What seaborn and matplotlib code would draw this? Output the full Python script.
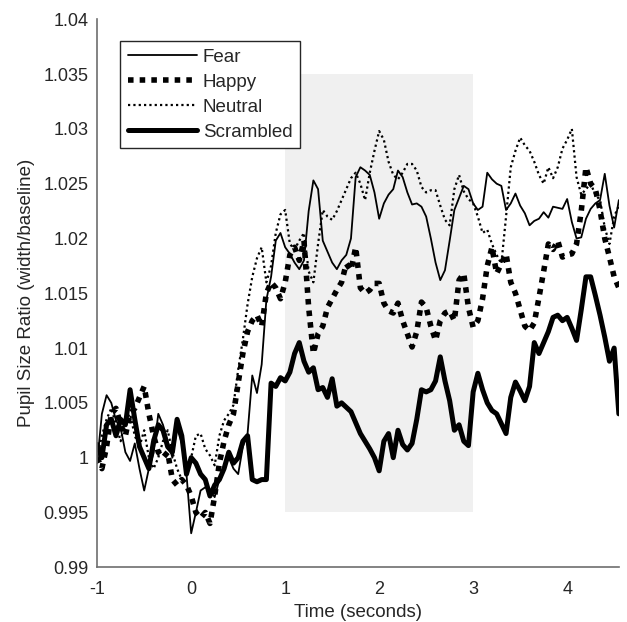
import matplotlib
matplotlib.use("Agg")
import matplotlib.pyplot as plt
import numpy as np
import pandas as pd
import seaborn as sns

# time grid (seconds), one sample every 50 ms
time_s = np.round(np.arange(-1.0, 4.5501, 0.05), 2)

fear = [
    0.9995, 1.0040, 1.0057, 1.0050, 1.0034, 1.0027, 1.0005, 0.9997, 1.0013, 0.9990,
    0.9970, 0.9990, 1.0004, 1.0040, 1.0030, 1.0015, 1.0000, 1.0027, 1.0013, 0.9985,
    0.9931, 0.9950, 0.9970, 0.9973, 0.9970, 0.9964, 0.9980, 0.9990, 1.0000, 0.9990,
    0.9985, 1.0010, 1.0022, 1.0075, 1.0059, 1.0085, 1.0144, 1.0165, 1.0198, 1.0205,
    1.0192, 1.0186, 1.0178, 1.0172, 1.0180, 1.0225, 1.0253, 1.0245, 1.0198, 1.0188,
    1.0178, 1.0172, 1.0180, 1.0185, 1.0200, 1.0256, 1.0265, 1.0262, 1.0258, 1.0242,
    1.0218, 1.0232, 1.0240, 1.0245, 1.0262, 1.0256, 1.0242, 1.0231, 1.0232, 1.0229,
    1.0220, 1.0200, 1.0178, 1.0162, 1.0171, 1.0198, 1.0226, 1.0237, 1.0248, 1.0245,
    1.0232, 1.0226, 1.0229, 1.0260, 1.0254, 1.0250, 1.0248, 1.0226, 1.0232, 1.0241,
    1.0230, 1.0223, 1.0212, 1.0216, 1.0218, 1.0224, 1.0219, 1.0229, 1.0228, 1.0227,
    1.0236, 1.0215, 1.0200, 1.0201, 1.0218, 1.0227, 1.0232, 1.0235, 1.0259, 1.0230,
    1.0210, 1.0235,
]

happy = [
    1.0000, 0.9990, 1.0010, 1.0040, 1.0045, 1.0030, 1.0020, 1.0040, 1.0045, 1.0055,
    1.0065, 1.0040, 1.0020, 1.0005, 1.0000, 1.0005, 0.9980, 0.9975, 0.9980, 0.9975,
    0.9965, 0.9950, 0.9945, 0.9950, 0.9940, 0.9965, 0.9995, 1.0015, 1.0030, 1.0040,
    1.0068, 1.0095, 1.0115, 1.0125, 1.0130, 1.0120, 1.0150, 1.0160, 1.0155, 1.0145,
    1.0160, 1.0185, 1.0192, 1.0180, 1.0198, 1.0137, 1.0095, 1.0113, 1.0120, 1.0137,
    1.0145, 1.0153, 1.0160, 1.0177, 1.0171, 1.0192, 1.0155, 1.0150, 1.0153, 1.0159,
    1.0159, 1.0141, 1.0134, 1.0132, 1.0141, 1.0125, 1.0113, 1.0101, 1.0115, 1.0142,
    1.0137, 1.0120, 1.0107, 1.0125, 1.0132, 1.0134, 1.0125, 1.0162, 1.0168, 1.0137,
    1.0119, 1.0125, 1.0145, 1.0175, 1.0192, 1.0168, 1.0177, 1.0186, 1.0160, 1.0150,
    1.0135, 1.0120, 1.0116, 1.0123, 1.0146, 1.0170, 1.0195, 1.0190, 1.0198, 1.0183,
    1.0185, 1.0186, 1.0195, 1.0225, 1.0265, 1.0250, 1.0245, 1.0226, 1.0200, 1.0183,
    1.0165, 1.0155,
]

neutral = [
    1.0000, 1.0020, 1.0035, 1.0045, 1.0030, 1.0015, 1.0035, 1.0040, 1.0020, 1.0010,
    1.0025, 1.0000, 0.9990, 1.0000, 1.0015, 1.0025, 1.0005, 0.9990, 0.9980, 0.9985,
    1.0000, 1.0020, 1.0022, 1.0008, 1.0002, 0.9993, 1.0020, 1.0034, 1.0040, 1.0048,
    1.0080, 1.0108, 1.0140, 1.0165, 1.0182, 1.0192, 1.0160, 1.0175, 1.0205, 1.0222,
    1.0226, 1.0195, 1.0190, 1.0198, 1.0205, 1.0170, 1.0160, 1.0195, 1.0226, 1.0220,
    1.0217, 1.0225, 1.0235, 1.0245, 1.0255, 1.0260, 1.0250, 1.0235, 1.0260, 1.0280,
    1.0298, 1.0290, 1.0270, 1.0258, 1.0254, 1.0260, 1.0268, 1.0268, 1.0262, 1.0247,
    1.0242, 1.0244, 1.0244, 1.0230, 1.0217, 1.0212, 1.0245, 1.0258, 1.0243, 1.0236,
    1.0232, 1.0220, 1.0205, 1.0208, 1.0195, 1.0185, 1.0177, 1.0220, 1.0265, 1.0280,
    1.0292, 1.0285, 1.0280, 1.0270, 1.0258, 1.0250, 1.0265, 1.0255, 1.0265, 1.0282,
    1.0290, 1.0300, 1.0256, 1.0240, 1.0245, 1.0250, 1.0240, 1.0235, 1.0210, 1.0195,
    1.0220, 1.0230,
]

scrambled = [
    1.0012, 1.0000, 1.0030, 1.0035, 1.0020, 1.0035, 1.0030, 1.0062, 1.0035, 1.0010,
    1.0000, 0.9990, 1.0015, 1.0030, 1.0025, 1.0010, 1.0005, 1.0035, 1.0020, 0.9985,
    1.0000, 0.9995, 0.9985, 0.9980, 0.9965, 0.9975, 0.9980, 0.9990, 1.0005, 0.9995,
    1.0000, 1.0015, 1.0020, 0.9980, 0.9978, 0.9980, 0.9980, 1.0068, 1.0065, 1.0073,
    1.0070, 1.0078, 1.0095, 1.0105, 1.0088, 1.0078, 1.0082, 1.0062, 1.0064, 1.0055,
    1.0072, 1.0047, 1.0050, 1.0046, 1.0042, 1.0032, 1.0022, 1.0015, 1.0008, 1.0000,
    0.9988, 1.0015, 1.0022, 1.0000, 1.0025, 1.0012, 1.0007, 1.0013, 1.0035, 1.0062,
    1.0060, 1.0062, 1.0070, 1.0092, 1.0070, 1.0052, 1.0025, 1.0030, 1.0015, 1.0011,
    1.0060, 1.0077, 1.0062, 1.0050, 1.0043, 1.0040, 1.0031, 1.0022, 1.0055, 1.0069,
    1.0061, 1.0052, 1.0065, 1.0105, 1.0095, 1.0105, 1.0115, 1.0128, 1.0130, 1.0125,
    1.0128, 1.0118, 1.0107, 1.0135, 1.0165, 1.0165, 1.0148, 1.0130, 1.0110, 1.0088,
    1.0100, 1.0040,
]

conditions = ["Fear", "Happy", "Neutral", "Scrambled"]

# stimulus window (shaded)
window_x = [1, 3]
window_y = [0.995, 1.035]

x_ticks = [-1, 0, 1, 2, 3, 4]
y_ticks = [0.99, 0.995, 1.0, 1.005, 1.01, 1.015, 1.02, 1.025, 1.03, 1.035, 1.04]

df = pd.DataFrame({"time": time_s, "Fear": fear, "Happy": happy,
                   "Neutral": neutral, "Scrambled": scrambled})

sns.set_theme(style="white")
plt.rcParams["font.family"] = ["Liberation Sans", "DejaVu Sans"]

styles = {
    "Fear": dict(lw=1.3, linestyle="-"),
    "Happy": dict(lw=4.0, linestyle=(0, (1, 1.1))),
    "Neutral": dict(lw=1.6, linestyle=(0, (1, 1.4))),
    "Scrambled": dict(lw=3.6, linestyle="-"),
}

fig = plt.figure(figsize=(6.27, 6.22), dpi=100)
ax = fig.add_axes([0.155, 0.088, 0.832, 0.881])

ax.fill_between(window_x, window_y[0], window_y[1], color="#f0f0f0", lw=0, zorder=0)

for name in conditions:
    sns.lineplot(data=df, x="time", y=name, ax=ax, color="black",
                 label=name, **styles[name])

ax.set_xlim(-1, 4.55)
ax.set_ylim(0.99, 1.04)
ax.set_xticks(x_ticks)
ax.set_yticks(y_ticks)
ax.set_yticklabels([f"{v:g}" for v in y_ticks])
ax.set_xticklabels([f"{v:g}" for v in x_ticks])

for side in ["top", "right"]:
    ax.spines[side].set_visible(False)
for side in ["left", "bottom"]:
    ax.spines[side].set_color("#6e6e6e")
    ax.spines[side].set_linewidth(1.2)
ax.tick_params(direction="in", length=4, width=1, color="#6e6e6e",
               labelsize=13, labelcolor="#262626", pad=6)
ax.tick_params(axis="x", pad=10)

ax.set_xlabel("Time (seconds)", fontsize=13.5, color="#262626", labelpad=4)
ax.set_ylabel("Pupil Size Ratio (width/baseline)", fontsize=13.5, color="#262626", labelpad=6)

leg = ax.legend(loc="upper left", bbox_to_anchor=(0.044, 0.96), borderaxespad=0,
                fontsize=13.5, handlelength=3.7, handletextpad=0.3, labelspacing=0.42,
                borderpad=0.4, fancybox=False, framealpha=1, edgecolor="#262626")
leg.get_frame().set_linewidth(1.0)

plt.savefig("out.png", dpi=100)
